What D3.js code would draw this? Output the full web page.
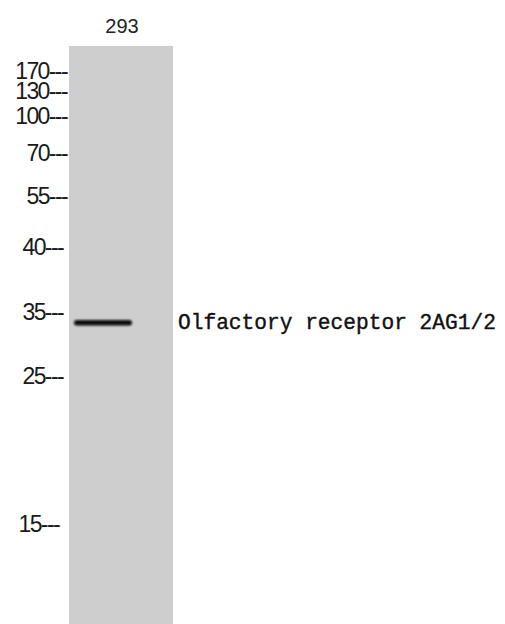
<!DOCTYPE html>
<html>
<head>
<meta charset="utf-8">
<script src="https://cdn.jsdelivr.net/npm/d3@7"></script>
<style>
  body { margin: 0; background: #fff; }
</style>
</head>
<body>
<script>
// marker ladder (kDa), lanes, detected bands
var markers = [170, 130, 100, 70, 55, 40, 35, 25, 15];
var lanes = ["293"];
var bandLane = ["293"];
var bandMW = [33.4];
var targetLabel = "Olfactory receptor 2AG1/2";

var width = 505, height = 624;

var svg = d3.select("body").append("svg")
  .attr("width", width)
  .attr("height", height);

// the gel isn't log-linear, so map each marker to where it ran
// (piecewise scale wants an ascending domain)
var y = d3.scaleLinear()
  .domain(markers.slice().reverse())
  .range([525, 376.5, 312.5, 247.5, 196.5, 154, 117, 91.5, 72]);

var x = d3.scaleBand()
  .domain(lanes)
  .range([69, 173])
  .padding(0);

var defs = svg.append("defs");
defs.append("filter").attr("id", "soft")
  .attr("filterUnits", "userSpaceOnUse")
  .attr("x", 0).attr("y", 0)
  .attr("width", width).attr("height", height)
  .append("feGaussianBlur").attr("stdDeviation", 0.9);

// lane
svg.selectAll("rect.lane")
  .data(lanes)
  .enter()
  .append("rect")
  .attr("class", "lane")
  .attr("x", function(d) { return x(d); })
  .attr("y", 46)
  .attr("width", x.bandwidth())
  .attr("height", height - 46)
  .style("fill", "#cecece");

// lane title
svg.selectAll("text.laneLabel")
  .data(lanes)
  .enter()
  .append("text")
  .attr("class", "laneLabel")
  .attr("x", function(d) { return x(d) + x.bandwidth() / 2 + 1; })
  .attr("y", 33)
  .attr("text-anchor", "middle")
  .attr("font-family", "Liberation Sans, Arial, sans-serif")
  .attr("font-size", "20px")
  .attr("fill", "#222")
  .text(function(d) { return d; });

// marker labels with dashes
svg.selectAll("text.marker")
  .data(markers)
  .enter()
  .append("text")
  .attr("class", "marker")
  .attr("x", function(d) { return d > 40 ? 67 : (d > 15 ? 63 : 59); })
  .attr("y", function(d) { return y(d) + 7; })
  .attr("text-anchor", "end")
  .attr("font-family", "Liberation Sans, Arial, sans-serif")
  .attr("font-size", "23px")
  .attr("letter-spacing", "-1.6px")
  .attr("fill", "#1a1a1a")
  .text(function(d) { return d + "---"; });

// bands
var bandH = 5.5;
svg.selectAll("rect.band")
  .data(bandMW)
  .enter()
  .append("rect")
  .attr("class", "band")
  .attr("x", function(d, i) { return x(bandLane[i]) + 5; })
  .attr("y", function(d) { return y(d) - bandH / 2; })
  .attr("width", 58)
  .attr("height", bandH)
  .attr("rx", bandH / 2)
  .style("fill", "#0a0a0a")
  .attr("filter", "url(#soft)");

// target name
svg.append("text")
  .attr("x", 178)
  .attr("y", 329)
  .attr("font-family", "Liberation Mono, Courier New, monospace")
  .attr("font-size", "21.2px")
  .attr("fill", "#111")
  .attr("stroke", "#111")
  .attr("stroke-width", 0.4)
  .text(targetLabel);
</script>
</body>
</html>
